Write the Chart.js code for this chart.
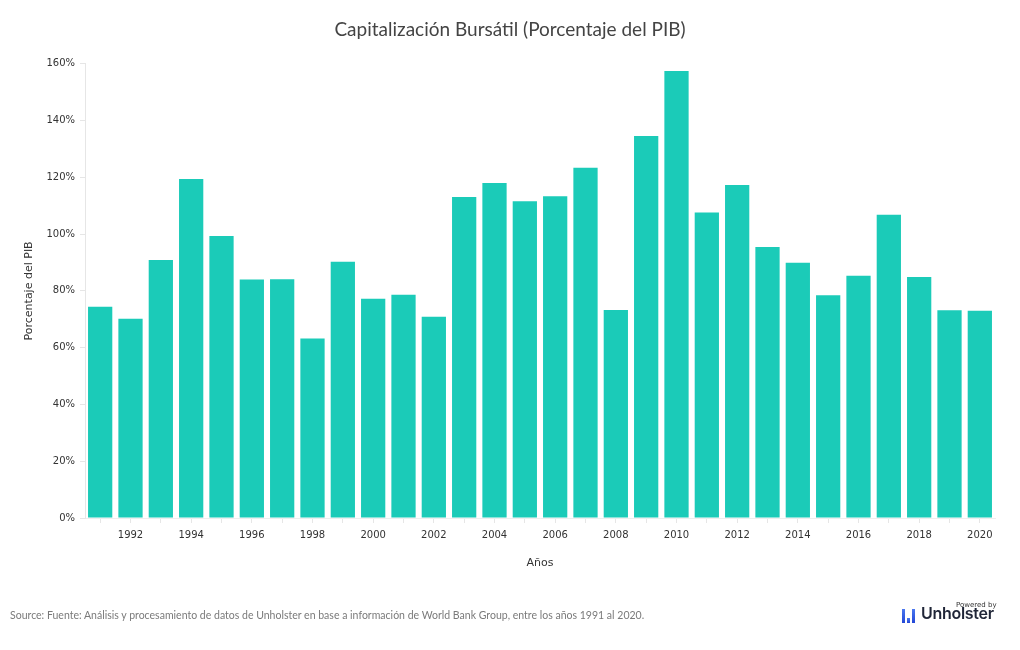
<!DOCTYPE html>
<html lang="es">
<head>
  <meta charset="UTF-8">
  <title>Capitalización Bursátil</title>
  <script src="https://cdn.jsdelivr.net/npm/chart.js"></script>
  <style>
    body { margin: 0; background: #fff; }
    #wrap { position: relative; width: 1020px; height: 650px; }
    #fuente {
      position: absolute; left: 10px; top: 607px;
      font-family: "Lato", sans-serif;
      font-size: 12px; color: #7a7a7a; white-space: nowrap;
      transform: scaleX(0.877); transform-origin: left top;
    }
    #logo { position: absolute; left: 900px; top: 598px; width: 110px; height: 28px; }
    #logo span { white-space: nowrap; }
    #logo .pw { position: absolute; left: 56px; top: 3px; font: 7px "DejaVu Sans", sans-serif; color: #333; }
    #logo .nm { position: absolute; left: 21px; top: 6px; font: 600 16px "Inter", "DejaVu Sans", sans-serif; color: #1f2537; line-height: 19px; letter-spacing: -0.3px; }
    #logo i { position: absolute; background: linear-gradient(#4a78f0, #2347d6); }
  </style>
</head>
<body>
  <div id="wrap">
    <canvas id="capChart" width="1020" height="650"></canvas>
    <div id="fuente">Source: Fuente: Análisis y procesamiento de datos de Unholster en base a información de World Bank Group, entre los años 1991 al 2020.</div>
    <div id="logo">
      <i style="left:2px;top:11px;width:3px;height:14px"></i>
      <i style="left:7px;top:20px;width:3px;height:5px"></i>
      <i style="left:12px;top:11px;width:3px;height:14px"></i>
      <span class="pw">Powered by</span>
      <span class="nm">Unholster</span>
    </div>
  </div>

  <script>
    // Años (categorías)
    const anios = [
      '1991', '1992', '1993', '1994', '1995', '1996', '1997', '1998', '1999', '2000',
      '2001', '2002', '2003', '2004', '2005', '2006', '2007', '2008', '2009', '2010',
      '2011', '2012', '2013', '2014', '2015', '2016', '2017', '2018', '2019', '2020'
    ];

    // Capitalización bursátil, % del PIB
    const capitalizacion = [
      74.4, 70.2, 90.9, 119.4, 99.3, 84.0, 84.1, 63.2, 90.3, 77.2,
      78.6, 70.9, 113.1, 118.0, 111.6, 113.3, 123.4, 73.3, 134.6, 157.5,
      107.6, 117.3, 95.5, 89.9, 78.5, 85.3, 106.8, 84.9, 73.2, 73.0
    ];

    // Marcas del eje Y
    const ticksY = [0, 20, 40, 60, 80, 100, 120, 140, 160];

    const ctx = document.getElementById("capChart").getContext("2d");
    new Chart(ctx, {
      type: "bar",
      data: {
        labels: anios,
        datasets: [{
          label: "Porcentaje del PIB",
          data: capitalizacion,
          backgroundColor: "#1bcbb8",
          barPercentage: 0.8,
          categoryPercentage: 1.0
        }]
      },
      options: {
        responsive: false,
        animation: false,
        // izquierda = derecha para que el título quede centrado en el lienzo
        layout: { padding: { left: 25, right: 25, top: 0, bottom: 72 } },
        plugins: {
          legend: { display: false },
          tooltip: { enabled: false },
          title: {
            display: true,
            text: "Capitalización Bursátil (Porcentaje del PIB)",
            color: "#444",
            font: { family: "Lato", size: 19, weight: "normal" },
            padding: { top: 18, bottom: 23 }
          }
        },
        scales: {
          x: {
            afterFit: s => { s.height = 60; },
            grid: {
              offset: false,
              drawOnChartArea: false,
              tickLength: 5,
              color: "#e6e6e6"
            },
            border: { color: "#eeeeee" },
            ticks: {
              autoSkip: false,
              maxRotation: 0,
              padding: 6,
              color: "#333",
              font: { family: "DejaVu Sans", size: 10 },
              callback: function (v, i) { return i % 2 === 1 ? anios[i] : ''; }
            },
            title: {
              display: true,
              text: "Años",
              color: "#333",
              font: { family: "DejaVu Sans", size: 11 },
              padding: { top: 8, bottom: 8 }
            }
          },
          y: {
            min: 0,
            max: 160,
            afterFit: s => { s.width = 60; },
            afterBuildTicks: s => { s.ticks = ticksY.map(v => ({ value: v })); },
            grid: {
              drawOnChartArea: false,
              tickLength: 5,
              color: "#e6e6e6"
            },
            border: { color: "#e6e6e6" },
            ticks: {
              padding: 5,
              color: "#333",
              font: { family: "DejaVu Sans", size: 10 },
              callback: v => v + "%"
            },
            title: {
              display: true,
              text: "Porcentaje del PIB",
              color: "#333",
              font: { family: "DejaVu Sans", size: 11, lineHeight: 1 },
              padding: { top: -1, bottom: 0 }
            }
          }
        }
      }
    });
  </script>
</body>
</html>
